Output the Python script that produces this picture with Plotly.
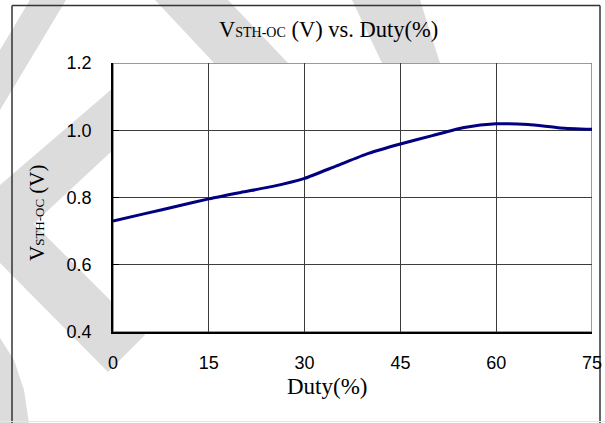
import plotly.graph_objects as go

# ---- data ----
duty = [0, 5, 10, 15, 20, 25, 30, 35, 40, 45, 50, 55, 60, 65, 70, 75]
vsth = [0.730, 0.752, 0.774, 0.796, 0.815, 0.833, 0.857, 0.894, 0.931,
        0.959, 0.984, 1.008, 1.019, 1.017, 1.007, 1.003]
x_ticks = [0, 15, 30, 45, 60, 75]
x_ticktext = ["0", "15", "30", "45", "60", "75"]
y_ticks = [0.4, 0.6, 0.8, 1.0, 1.2]
y_ticktext = ["0.4", "0.6", "0.8", "1.0", "1.2"]

# ---- layout geometry (pixels) ----
W, H = 605, 423
L, R, T, B = 113, 592, 63, 332


def px(x):
    return (x - L) / (R - L)


def py(y):
    return (B - y) / (B - T)


def path(pts):
    return "M " + " L ".join(f"{px(a):.4f},{py(b):.4f}" for a, b in pts) + " Z"


WM = "#dcdcdc"
watermark = [
    [(30, 0), (66, 0), (0, 110), (0, 50)],
    [(155, 0), (228, 0), (288, 63), (214, 63)],
    [(352, 0), (420, 0), (440, 63), (382, 63)],
    [(113, 88), (113, 150), (0, 255), (0, 185)],
    [(0, 190), (145, 335), (108, 372), (0, 263)],
    [(0, 338), (14, 360), (24, 390), (29, 423), (0, 423)],
]

shapes = []
for poly in watermark:
    shapes.append(dict(type="path", xref="paper", yref="paper", path=path(poly),
                       fillcolor=WM, line=dict(width=0), layer="below"))
# white plot area over watermark
shapes.append(dict(type="rect", xref="x", yref="y", x0=0, x1=75, y0=0.4, y1=1.2,
                   fillcolor="white", line=dict(color="#7a7a7a", width=1.5), layer="below"))
# outer frame (left, top, right)
frame = dict(color="#333333", width=1.5)
shapes.append(dict(type="line", xref="paper", yref="paper",
                   x0=px(12), x1=px(12), y0=py(440), y1=py(5.5), line=frame, layer="below"))
shapes.append(dict(type="line", xref="paper", yref="paper",
                   x0=px(12), x1=px(600), y0=py(5.5), y1=py(5.5), line=frame, layer="below"))
shapes.append(dict(type="line", xref="paper", yref="paper",
                   x0=px(600), x1=px(600), y0=py(440), y1=py(5.5), line=frame, layer="below"))
# faint bottom line
shapes.append(dict(type="line", xref="paper", yref="paper",
                   x0=px(0), x1=px(605), y0=py(421.5), y1=py(421.5),
                   line=dict(color="#e6e6e6", width=1), layer="below"))

fig = go.Figure()
fig.add_trace(go.Scatter(x=duty, y=vsth, mode="lines",
                         line=dict(color="#000080", width=3, shape="spline", smoothing=0.6),
                         hoverinfo="skip", showlegend=False))

tickfont = dict(family="Liberation Sans, Arial, sans-serif", size=18, color="black")
serif = "Liberation Serif, Times New Roman, serif"

fig.update_layout(
    width=W, height=H,
    margin=dict(l=L, r=W - R, t=T, b=H - B, pad=0, autoexpand=False),
    paper_bgcolor="white", plot_bgcolor="rgba(0,0,0,0)",
    shapes=shapes,
    xaxis=dict(range=[0, 75], tickvals=x_ticks, ticktext=x_ticktext,
               showgrid=True, gridcolor="#3c3c3c", gridwidth=1,
               showline=True, linecolor="black", linewidth=1.5,
               ticks="", tickfont=tickfont, ticklabelstandoff=14,
               zeroline=False, fixedrange=True, automargin=False),
    yaxis=dict(range=[0.4, 1.2], tickvals=y_ticks, ticktext=y_ticktext,
               showgrid=True, gridcolor="#3c3c3c", gridwidth=1,
               showline=True, linecolor="black", linewidth=1.5,
               ticks="inside", ticklen=6, tickcolor="black",
               tickfont=tickfont, ticklabelstandoff=16,
               zeroline=False, fixedrange=True, automargin=False),
    annotations=[
        dict(text="V<span style='font-size:14px'>STH-OC</span> (V) vs. Duty(%)",
             xref="paper", yref="paper", x=px(328), y=py(29),
             xanchor="center", yanchor="middle", showarrow=False,
             font=dict(family=serif, size=22.5, color="black")),
        dict(text="Duty(%)", xref="paper", yref="paper", x=px(327), y=py(387),
             xanchor="center", yanchor="middle", showarrow=False,
             font=dict(family=serif, size=23, color="black")),
        dict(text="V<span style='font-size:13px'>STH-OC</span> (V)",
             xref="paper", yref="paper", x=px(37), y=py(213), textangle=-90,
             xanchor="center", yanchor="middle", showarrow=False,
             font=dict(family=serif, size=21, color="black")),
    ],
)

fig.write_html("out.html", config={"displayModeBar": False},
               post_script="document.body.style.margin='0px';document.body.style.overflow='hidden';")
